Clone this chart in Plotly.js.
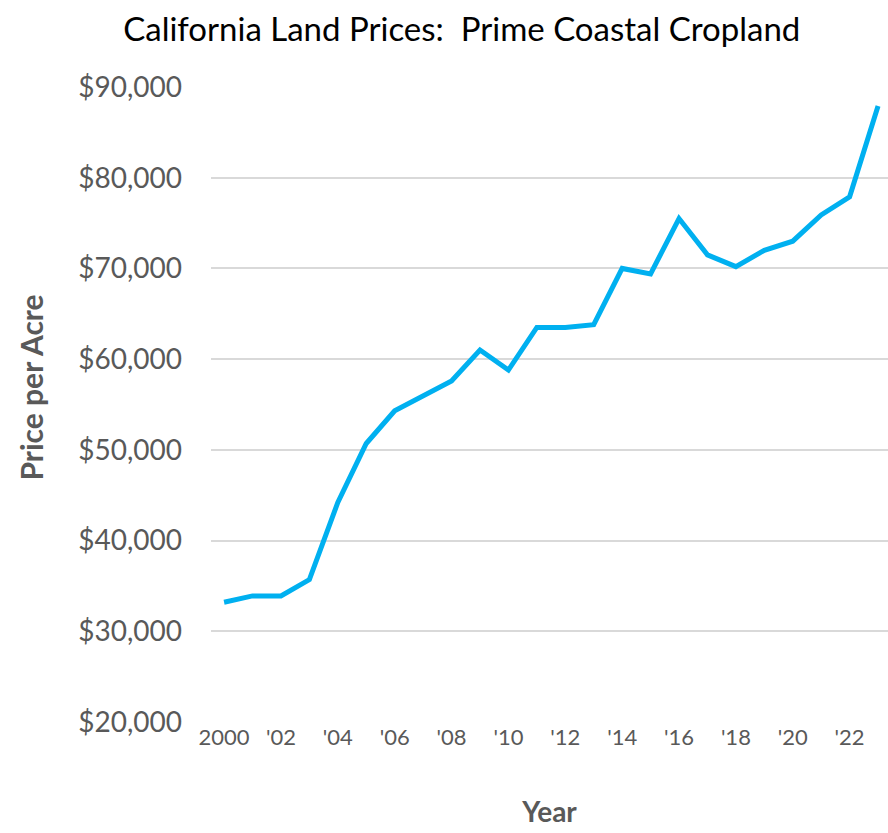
<!DOCTYPE html>
<html>
<head>
<meta charset="utf-8">
<script src="https://cdn.plot.ly/plotly-3.0.1.min.js"></script>
<style>html,body{margin:0;padding:0;background:#fff;}#chart{width:888px;height:833px;}</style>
</head>
<body>
<div id="chart"></div>
<script>
const years = [2000,2001,2002,2003,2004,2005,2006,2007,2008,2009,2010,2011,2012,2013,2014,2015,2016,2017,2018,2019,2020,2021,2022,2023];
const prices = [33200,33900,33900,35700,44200,50700,54300,56000,57600,61000,58800,63500,63500,63800,70000,69400,75500,71500,70200,72000,73000,75900,77900,87900];
const tickYears = [2000,2002,2004,2006,2008,2010,2012,2014,2016,2018,2020,2022];
const tickLabels = ["2000","'02","'04","'06","'08","'10","'12","'14","'16","'18","'20","'22"];
const yTicks = [20000,30000,40000,50000,60000,70000,80000,90000];
const yTickLabels = ["$20,000","$30,000","$40,000","$50,000","$60,000","$70,000","$80,000","$90,000"];

const font = "Lato, 'Open Sans', sans-serif";
const trace = {
  x: years, y: prices, type: 'scatter', mode: 'lines',
  line: {color: '#00B0F0', width: 5, shape: 'linear'},
  hoverinfo: 'x+y'
};
const layout = {
  width: 888, height: 833,
  margin: {l: 211, r: 0, t: 87, b: 111},
  paper_bgcolor: '#fff', plot_bgcolor: '#fff',
  showlegend: false,
  title: {text: 'California Land Prices:  Prime Coastal Cropland', font: {family: font, size: 33, color: '#000'},
          x: 0.52, xref: 'container', xanchor: 'center', y: 0.965, yref: 'container', yanchor: 'middle'},
  xaxis: {
    range: [1999.54, 2023.35], tickmode: 'array', tickvals: tickYears, ticktext: tickLabels,
    showgrid: false, zeroline: false, showline: false, ticks: '',
    tickfont: {family: font, size: 22, color: '#595959'},
    title: {text: '<b>Year</b>', font: {family: font, size: 28, color: '#595959'}, standoff: 53}
  },
  yaxis: {
    range: [20000, 90000], tickmode: 'array', tickvals: yTicks, ticktext: yTickLabels,
    showgrid: true, gridcolor: '#d9d9d9', gridwidth: 2, zeroline: false, showline: false, ticks: '',
    ticklabelstandoff: 28,
    tickfont: {family: font, size: 28, color: '#595959'}
  },
  annotations: [{
    text: '<b>Price per Acre</b>', textangle: -90, showarrow: false,
    xref: 'paper', yref: 'paper', x: -0.2665, xanchor: 'center', y: 0.526, yanchor: 'middle',
    font: {family: font, size: 30, color: '#595959'}
  }]
};
Plotly.newPlot('chart', [trace], layout, {displayModeBar: false, staticPlot: true});
</script>
</body>
</html>
